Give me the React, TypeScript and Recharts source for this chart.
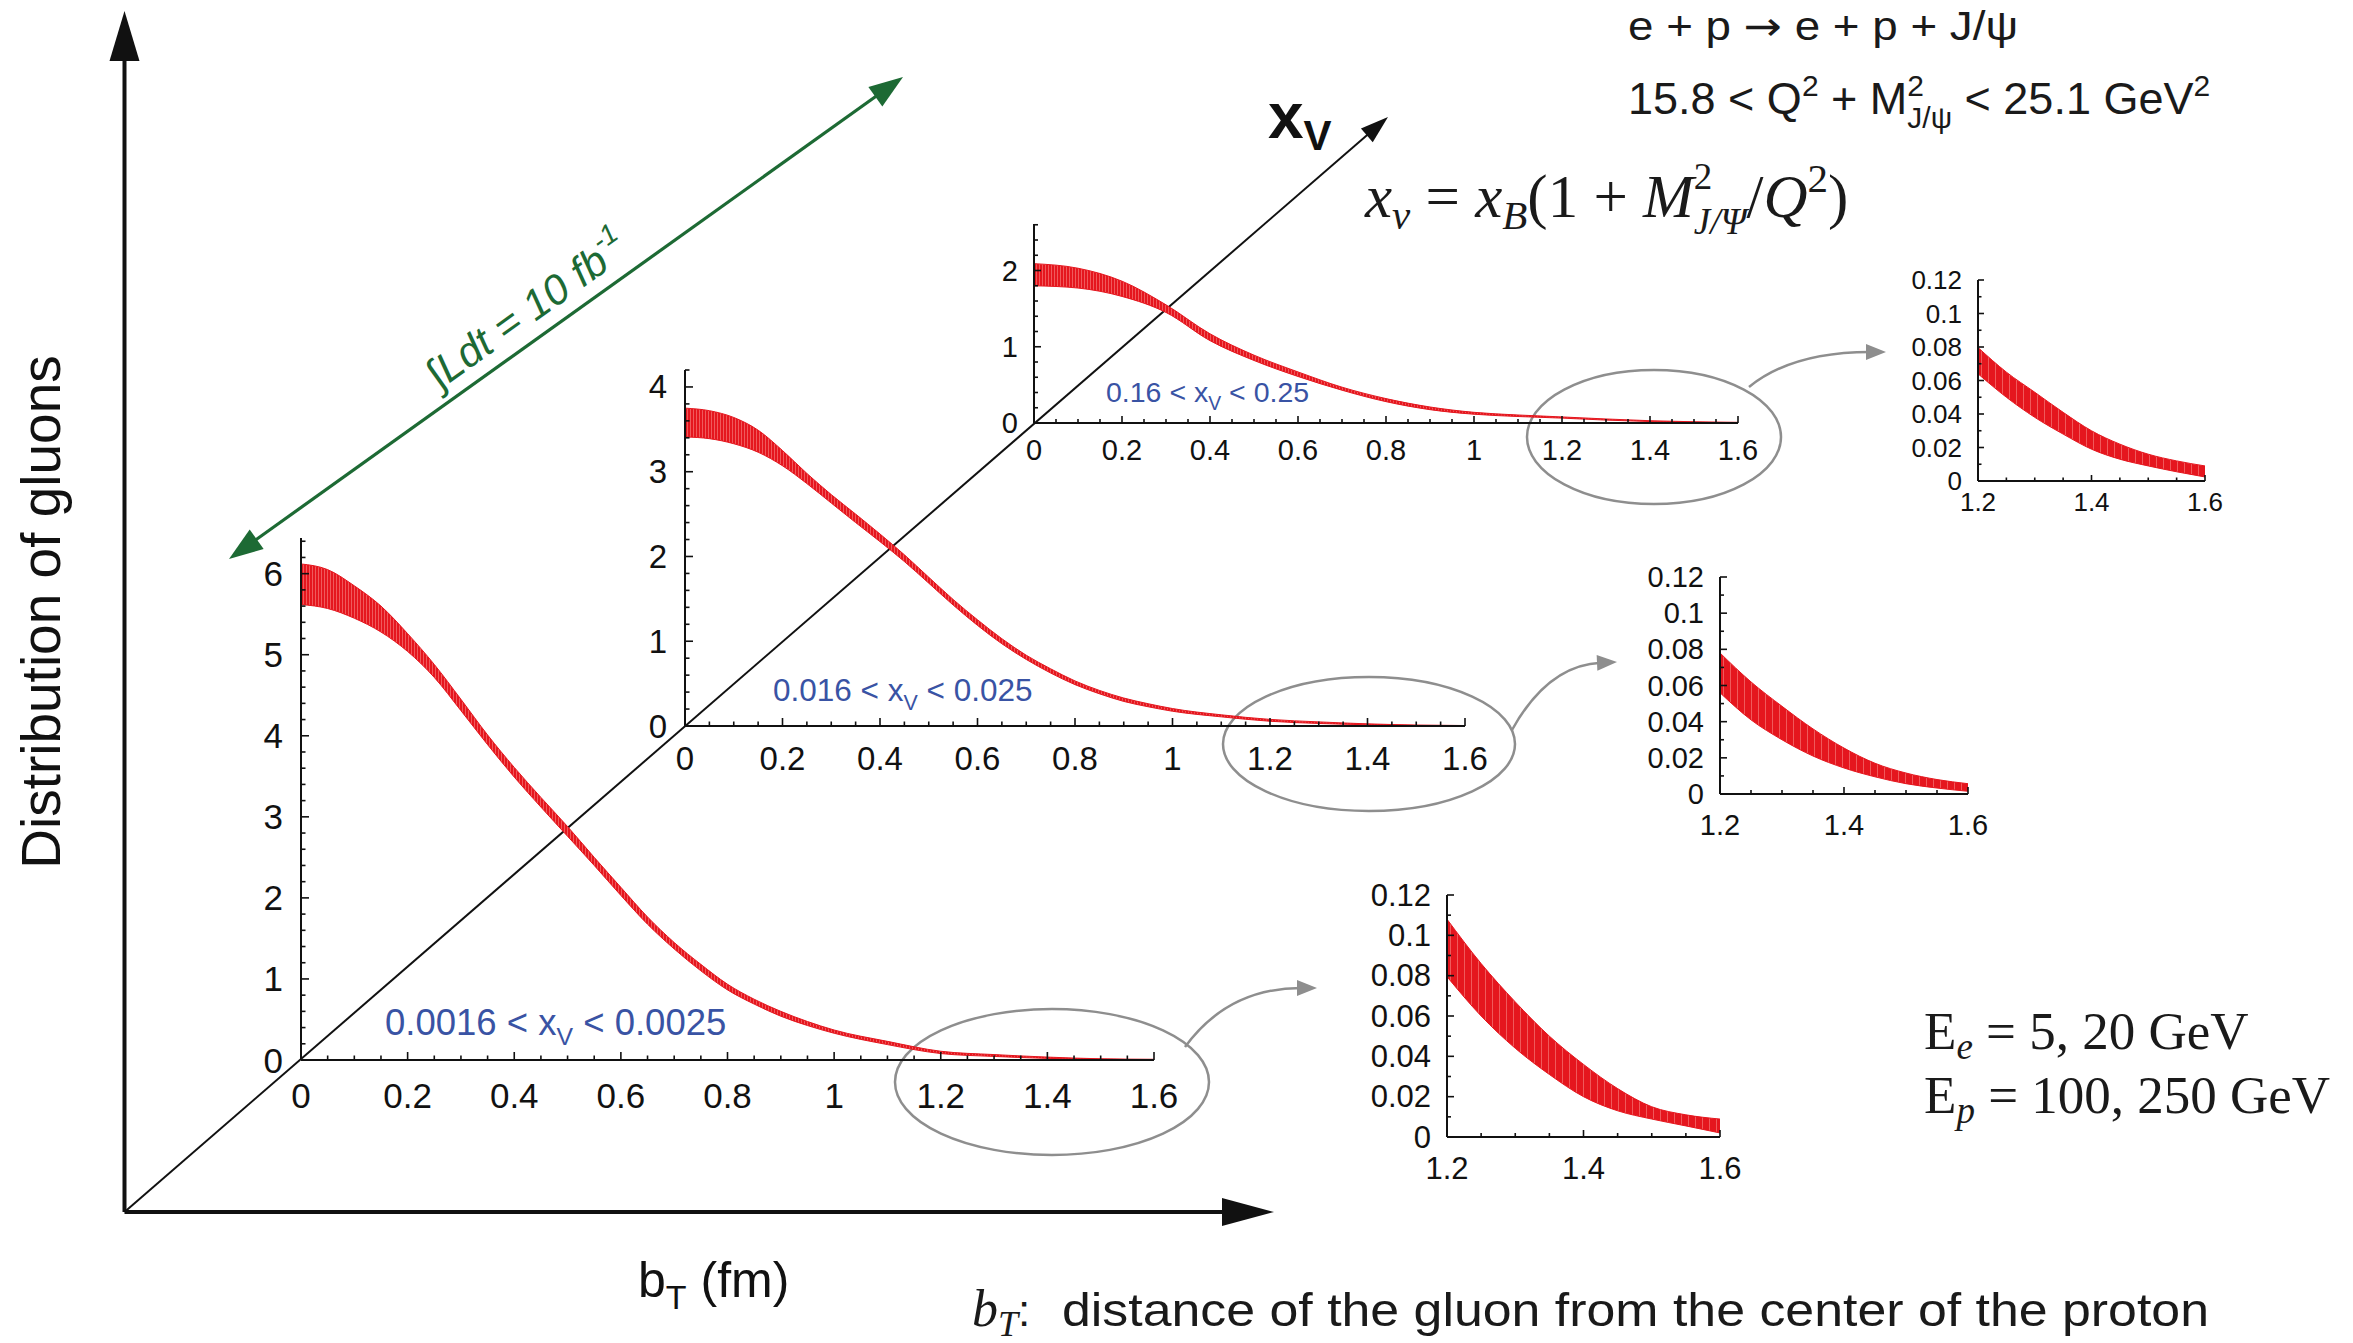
import React from 'react';
import { AreaChart, Area, XAxis, YAxis } from 'recharts';

const SANS = '"Liberation Sans", Arial, Helvetica, sans-serif';
const SERIF = '"Liberation Serif", "Times New Roman", Times, serif';
const INK = '#111111';
const RED = '#e5161e';
const BLUE = '#3953a4';
const GREEN = '#1d6a34';
const GREY = '#8e8e8e';

// b_T sampling points (fm)
const B_FINE = [0, 0.05, 0.1, 0.15, 0.2, 0.25, 0.3, 0.35, 0.4, 0.45, 0.5, 0.55, 0.6, 0.65, 0.7, 0.75, 0.8, 0.85, 0.9, 0.95, 1.0, 1.1, 1.2, 1.3, 1.4, 1.5, 1.6];
const B_COARSE = [0, 0.1, 0.2, 0.3, 0.4, 0.5, 0.6, 0.7, 0.8, 0.9, 1.0, 1.1, 1.2, 1.3, 1.4, 1.5, 1.6];
const B_TAIL = [1.2, 1.25, 1.3, 1.35, 1.4, 1.45, 1.5, 1.55, 1.6];

// 0.0016 < xV < 0.0025 (lower / upper edge of the band)
const LOW_A = [5.62, 5.57, 5.45, 5.28, 5.04, 4.72, 4.31, 3.89, 3.49, 3.12, 2.76, 2.4, 2.03, 1.675, 1.37, 1.1, 0.865, 0.69, 0.54, 0.425, 0.33, 0.19, 0.0795, 0.044, 0.02, 0.009, 0.002];
const HIGH_A = [6.12, 6.05, 5.85, 5.6, 5.26, 4.88, 4.45, 4.01, 3.61, 3.24, 2.88, 2.5, 2.13, 1.765, 1.45, 1.18, 0.935, 0.75, 0.6, 0.475, 0.37, 0.23, 0.108, 0.067, 0.036, 0.015, 0.009];

// 0.016 < xV < 0.025
const LOW_B = [3.41, 3.39, 3.33, 3.23, 3.07, 2.86, 2.63, 2.4, 2.175, 1.94, 1.685, 1.427, 1.187, 0.97, 0.785, 0.625, 0.488, 0.38, 0.29, 0.227, 0.174, 0.108, 0.056, 0.03, 0.0144, 0.0057, 0.0015];
const HIGH_B = [3.75, 3.72, 3.64, 3.49, 3.25, 2.98, 2.73, 2.5, 2.265, 2.02, 1.755, 1.493, 1.253, 1.03, 0.835, 0.675, 0.532, 0.42, 0.33, 0.263, 0.206, 0.132, 0.078, 0.0485, 0.0254, 0.0116, 0.0057];

// 0.16 < xV < 0.25
const LOW_C = [1.8, 1.77, 1.66, 1.45, 1.08, 0.82, 0.61, 0.43, 0.28, 0.175, 0.115, 0.085, 0.064, 0.038, 0.019, 0.009, 0.0024];
const HIGH_C = [2.09, 2.03, 1.86, 1.55, 1.17, 0.89, 0.67, 0.47, 0.32, 0.21, 0.14, 0.105, 0.0797, 0.053, 0.03, 0.016, 0.009];

// zoomed tails, 1.2 < b_T < 1.6
const TAIL_LOW_A = [0.0795, 0.06, 0.044, 0.031, 0.02, 0.013, 0.0089, 0.0055, 0.002];
const TAIL_HIGH_A = [0.108, 0.086, 0.067, 0.05, 0.036, 0.024, 0.015, 0.011, 0.0089];
const TAIL_LOW_B = [0.056, 0.041, 0.03, 0.021, 0.0144, 0.0095, 0.0057, 0.0033, 0.0015];
const TAIL_HIGH_B = [0.078, 0.062, 0.0485, 0.036, 0.0254, 0.017, 0.0116, 0.008, 0.0057];
const TAIL_LOW_C = [0.064, 0.05, 0.038, 0.028, 0.019, 0.013, 0.009, 0.0055, 0.0024];
const TAIL_HIGH_C = [0.0797, 0.065, 0.053, 0.041, 0.03, 0.022, 0.016, 0.012, 0.009];

// tick labels
const MAIN_X_LABELS = [0, 0.2, 0.4, 0.6, 0.8, 1, 1.2, 1.4, 1.6];
const TAIL_X_LABELS = [1.2, 1.4, 1.6];
const TAIL_Y_LABELS = [0, 0.02, 0.04, 0.06, 0.08, 0.1, 0.12];
const Y_LABELS_A = [0, 1, 2, 3, 4, 5, 6];
const Y_LABELS_B = [0, 1, 2, 3, 4];
const Y_LABELS_C = [0, 1, 2];

type PanelSpec = {
  id: string;
  b: number[];
  low: number[];
  high: number[];
  left: number;
  right: number;
  bottom: number;
  top: number;
  xMin: number;
  xMax: number;
  yMax: number;
  xMajor: number[];
  xParts: number;
  yMajor: number[];
  yParts: number;
  font: number;
  xLabelDy: number;
  yLabelGap: number;
  majorLen: number;
  minorLen: number;
  stripe: number;
};

// outer space around each plot; the 1px axes eat one pixel of the left/bottom margin
const PAD = { top: 30, right: 40, bottom: 70, left: 130 };
const CHART_MARGIN = { top: PAD.top, right: PAD.right, bottom: PAD.bottom - 1, left: PAD.left - 1 };

const PANELS: PanelSpec[] = [
  {
    id: 'a', b: B_FINE, low: LOW_A, high: HIGH_A,
    left: 301, right: 1154, bottom: 1060, top: 538,
    xMin: 0, xMax: 1.6, yMax: 6.44, xMajor: MAIN_X_LABELS, xParts: 4, yMajor: Y_LABELS_A, yParts: 5,
    font: 35, xLabelDy: 35, yLabelGap: 18, majorLen: 8, minorLen: 4.5, stripe: 3,
  },
  {
    id: 'b', b: B_FINE, low: LOW_B, high: HIGH_B,
    left: 685, right: 1465, bottom: 726, top: 370,
    xMin: 0, xMax: 1.6, yMax: 4.2, xMajor: MAIN_X_LABELS, xParts: 4, yMajor: Y_LABELS_B, yParts: 5,
    font: 33, xLabelDy: 32, yLabelGap: 18, majorLen: 8, minorLen: 4.5, stripe: 3,
  },
  {
    id: 'c', b: B_COARSE, low: LOW_C, high: HIGH_C,
    left: 1034, right: 1738, bottom: 423, top: 224,
    xMin: 0, xMax: 1.6, yMax: 2.61, xMajor: MAIN_X_LABELS, xParts: 4, yMajor: Y_LABELS_C, yParts: 5,
    font: 29, xLabelDy: 27, yLabelGap: 16, majorLen: 7, minorLen: 4, stripe: 3,
  },
  {
    id: 'ta', b: B_TAIL, low: TAIL_LOW_A, high: TAIL_HIGH_A,
    left: 1447, right: 1720, bottom: 1137, top: 895,
    xMin: 1.2, xMax: 1.6, yMax: 0.12, xMajor: TAIL_X_LABELS, xParts: 4, yMajor: TAIL_Y_LABELS, yParts: 2,
    font: 31, xLabelDy: 31, yLabelGap: 16, majorLen: 7, minorLen: 4, stripe: 7,
  },
  {
    id: 'tb', b: B_TAIL, low: TAIL_LOW_B, high: TAIL_HIGH_B,
    left: 1720, right: 1968, bottom: 794, top: 577,
    xMin: 1.2, xMax: 1.6, yMax: 0.12, xMajor: TAIL_X_LABELS, xParts: 4, yMajor: TAIL_Y_LABELS, yParts: 2,
    font: 29, xLabelDy: 31, yLabelGap: 16, majorLen: 7, minorLen: 4, stripe: 7,
  },
  {
    id: 'tc', b: B_TAIL, low: TAIL_LOW_C, high: TAIL_HIGH_C,
    left: 1978, right: 2205, bottom: 481, top: 280,
    xMin: 1.2, xMax: 1.6, yMax: 0.12, xMajor: TAIL_X_LABELS, xParts: 4, yMajor: TAIL_Y_LABELS, yParts: 2,
    font: 26, xLabelDy: 21, yLabelGap: 16, majorLen: 6, minorLen: 3.5, stripe: 7,
  },
];

// major ticks plus evenly spaced minor ticks up to the end of the axis
function fillTicks(major: number[], parts: number, max: number) {
  const step = (major[1] - major[0]) / parts;
  const out: number[] = [];
  for (let i = 0; major[0] + i * step <= max + 1e-6; i++) {
    out.push(Math.round((major[0] + i * step) * 1e6) / 1e6);
  }
  return out;
}

const isMajor = (v: number, major: number[]) => major.some((m) => Math.abs(m - v) < 1e-6);

function Panel({ s }: { s: PanelSpec }) {
  const data = s.b.map((b, i) => ({ b, band: [s.low[i], s.high[i]] }));
  const xTicks = fillTicks(s.xMajor, s.xParts, s.xMax);
  const yTicks = fillTicks(s.yMajor, s.yParts, s.yMax);
  const width = s.right - s.left + PAD.left + PAD.right;
  const height = s.bottom - s.top + PAD.top + PAD.bottom;

  const xTick = (p: any) => {
    const v = p.payload.value;
    const major = isMajor(v, s.xMajor);
    return (
      <g>
        <line x1={p.x} x2={p.x} y1={p.y} y2={p.y - (major ? s.majorLen : s.minorLen)} stroke={INK} strokeWidth={1.6} />
        {major && (
          <text x={p.x} y={p.y + s.xLabelDy} textAnchor="middle" dominantBaseline="central" fontSize={s.font} fontFamily={SANS} fill={INK}>
            {String(v)}
          </text>
        )}
      </g>
    );
  };

  const yTick = (p: any) => {
    const v = p.payload.value;
    const major = isMajor(v, s.yMajor);
    return (
      <g>
        <line x1={p.x} x2={p.x + (major ? s.majorLen : s.minorLen)} y1={p.y} y2={p.y} stroke={INK} strokeWidth={1.6} />
        {major && (
          <text x={p.x - s.yLabelGap} y={p.y} textAnchor="end" dominantBaseline="central" fontSize={s.font} fontFamily={SANS} fill={INK}>
            {String(v)}
          </text>
        )}
      </g>
    );
  };

  return (
    <div style={{ position: 'absolute', left: s.left - PAD.left, top: s.top - PAD.top }}>
      <AreaChart width={width} height={height} data={data} margin={CHART_MARGIN}>
        <defs>
          <pattern id={`stripe-${s.id}`} patternUnits="userSpaceOnUse" width={s.stripe} height={10}>
            <rect width={s.stripe} height={10} fill={RED} />
            <rect width={0.8} height={10} fill="#f36a6a" />
          </pattern>
        </defs>
        <XAxis
          dataKey="b"
          type="number"
          domain={[s.xMin, s.xMax]}
          ticks={xTicks}
          interval={0}
          height={1}
          tickSize={0}
          tickMargin={0}
          tickLine={false}
          axisLine={{ stroke: INK, strokeWidth: 2 }}
          tick={xTick}
          allowDataOverflow
        />
        <YAxis
          type="number"
          domain={[0, s.yMax]}
          ticks={yTicks}
          interval={0}
          width={1}
          tickSize={0}
          tickMargin={0}
          tickLine={false}
          axisLine={{ stroke: INK, strokeWidth: 2 }}
          tick={yTick}
          allowDataOverflow
        />
        <Area
          type="monotone"
          dataKey="band"
          stroke={RED}
          strokeWidth={1}
          fill={`url(#stripe-${s.id})`}
          fillOpacity={1}
          isAnimationActive={false}
        />
      </AreaChart>
    </div>
  );
}

type Pt = [number, number];

function head(tip: Pt, from: Pt, len: number, half: number) {
  const dx = tip[0] - from[0];
  const dy = tip[1] - from[1];
  const l = Math.hypot(dx, dy);
  const ux = dx / l;
  const uy = dy / l;
  const bx = tip[0] - ux * len;
  const by = tip[1] - uy * len;
  return `${tip[0]},${tip[1]} ${bx - uy * half},${by + ux * half} ${bx + uy * half},${by - ux * half}`;
}

function back(tip: Pt, from: Pt, len: number): Pt {
  const dx = tip[0] - from[0];
  const dy = tip[1] - from[1];
  const l = Math.hypot(dx, dy);
  return [tip[0] - (dx / l) * len, tip[1] - (dy / l) * len];
}

const ORIGIN: Pt = [124.5, 1212];
const Y_TIP: Pt = [124.5, 11];
const X_TIP: Pt = [1274, 1212];
const XV_TIP: Pt = [1388, 117];
const LUMI_A: Pt = [229, 559];
const LUMI_B: Pt = [903, 77];

const ELLIPSES = [
  { cx: 1052, cy: 1082, rx: 157, ry: 73 },
  { cx: 1369, cy: 744, rx: 146, ry: 67 },
  { cx: 1654, cy: 437, rx: 127, ry: 67 },
];

const CALLOUTS: { from: Pt; ctrl: Pt; to: Pt }[] = [
  { from: [1185, 1047], ctrl: [1228, 988], to: [1317, 988] },
  { from: [1512, 730], ctrl: [1548, 665], to: [1617, 662] },
  { from: [1749, 387], ctrl: [1792, 352], to: [1886, 352] },
];

const XV_LABELS = [
  { lo: '0.0016', hi: '0.0025', x: 385, y: 1035, size: 36.5 },
  { lo: '0.016', hi: '0.025', x: 773, y: 701, size: 31.5 },
  { lo: '0.16', hi: '0.25', x: 1106, y: 402, size: 28.5 },
];

function Decorations() {
  const yBase = back(Y_TIP, ORIGIN, 48);
  const xBase = back(X_TIP, ORIGIN, 50);
  const dBase = back(XV_TIP, ORIGIN, 26);
  const la = back(LUMI_A, LUMI_B, 28);
  const lb = back(LUMI_B, LUMI_A, 28);
  return (
    <svg width={2353} height={1343} style={{ position: 'absolute', left: 0, top: 0 }}>
      {/* frame axes */}
      <line x1={ORIGIN[0]} y1={ORIGIN[1]} x2={yBase[0]} y2={yBase[1]} stroke={INK} strokeWidth={4} />
      <polygon points={head(Y_TIP, ORIGIN, 50, 15)} fill={INK} />
      <line x1={ORIGIN[0]} y1={ORIGIN[1]} x2={xBase[0]} y2={xBase[1]} stroke={INK} strokeWidth={4} />
      <polygon points={head(X_TIP, ORIGIN, 52, 14)} fill={INK} />
      <line x1={ORIGIN[0]} y1={ORIGIN[1]} x2={dBase[0]} y2={dBase[1]} stroke={INK} strokeWidth={2} />
      <polygon points={head(XV_TIP, ORIGIN, 28, 9)} fill={INK} />

      {/* luminosity arrow */}
      <line x1={la[0]} y1={la[1]} x2={lb[0]} y2={lb[1]} stroke={GREEN} strokeWidth={3.2} />
      <polygon points={head(LUMI_A, LUMI_B, 34, 12)} fill={GREEN} />
      <polygon points={head(LUMI_B, LUMI_A, 34, 12)} fill={GREEN} />
      <text
        transform="translate(527 310) rotate(-35.5)"
        textAnchor="middle"
        dominantBaseline="central"
        fontFamily={SANS}
        fontStyle="italic"
        fontSize={42}
        fill={GREEN}
      >
        ∫Ldt = 10 fb<tspan dy={-15} fontSize={28}>-1</tspan>
      </text>

      {/* zoom ellipses and callout arrows */}
      {ELLIPSES.map((e, i) => (
        <ellipse key={i} cx={e.cx} cy={e.cy} rx={e.rx} ry={e.ry} fill="none" stroke={GREY} strokeWidth={2.5} />
      ))}
      {CALLOUTS.map((c, i) => {
        const end = back(c.to, c.ctrl, 16);
        return (
          <g key={i}>
            <path d={`M ${c.from[0]} ${c.from[1]} Q ${c.ctrl[0]} ${c.ctrl[1]} ${end[0]} ${end[1]}`} fill="none" stroke={GREY} strokeWidth={2.5} />
            <polygon points={head(c.to, c.ctrl, 20, 8)} fill={GREY} />
          </g>
        );
      })}

      {/* xV ranges */}
      {XV_LABELS.map((l) => (
        <text key={l.lo} x={l.x} y={l.y} fontFamily={SANS} fontSize={l.size} fill={BLUE}>
          {l.lo} &lt; x
          <tspan fontSize={l.size * 0.68} dy={l.size * 0.28}>V</tspan>
          <tspan dy={-l.size * 0.28}> &lt; {l.hi}</tspan>
        </text>
      ))}

      {/* axis titles */}
      <text transform="translate(60 612) rotate(-90)" textAnchor="middle" fontFamily={SANS} fontSize={55} fill={INK}>
        Distribution of gluons
      </text>
      <text x={638} y={1297} fontFamily={SANS} fontSize={50} fill={INK}>
        b<tspan fontSize={34} dy={12}>T</tspan>
        <tspan dy={-12}> (fm)</tspan>
      </text>
      <text x={1268} y={138} fontFamily={SANS} fontSize={64} fontWeight="bold" fill={INK}>
        x<tspan fontSize={42} dy={12}>V</tspan>
      </text>

      {/* process and kinematics */}
      <text x={1628} y={40} fontFamily={SANS} fontSize={40} fill="#1a1a1a" textLength={390} lengthAdjust="spacingAndGlyphs">
        e + p <tspan fontFamily='"DejaVu Sans", sans-serif'>→</tspan> e + p + J/ψ
      </text>
      <text x={1628} y={114} fontFamily={SANS} fontSize={45} fill="#1a1a1a">
        15.8 &lt; Q<tspan fontSize={30} dy={-18}>2</tspan>
        <tspan dy={18}> + M</tspan>
        <tspan fontSize={30} dy={-18}>2</tspan>
        <tspan fontSize={30} dx={-16.7} dy={32}>J/ψ</tspan>
        <tspan dy={-14}> &lt; 25.1 GeV</tspan>
        <tspan fontSize={30} dy={-18}>2</tspan>
      </text>
      <text x={1365} y={217} fontFamily={SERIF} fontSize={61} fill="#1a1a1a">
        <tspan fontStyle="italic">x</tspan>
        <tspan fontStyle="italic" fontSize={41} dy={12}>v</tspan>
        <tspan dy={-12}> = </tspan>
        <tspan fontStyle="italic">x</tspan>
        <tspan fontStyle="italic" fontSize={41} dy={12}>B</tspan>
        <tspan dy={-12}>(1 + </tspan>
        <tspan fontStyle="italic">M</tspan>
        <tspan fontSize={37} dy={-28}>2</tspan>
        <tspan fontStyle="italic" fontSize={37} dx={-18.5} dy={45}>J/Ψ</tspan>
        <tspan dy={-17}>/</tspan>
        <tspan fontStyle="italic">Q</tspan>
        <tspan fontSize={41} dy={-25}>2</tspan>
        <tspan dy={25}>)</tspan>
      </text>
      <text x={1924} y={1049} fontFamily={SERIF} fontSize={53} fill="#1a1a1a">
        E<tspan fontStyle="italic" fontSize={37} dy={10}>e</tspan>
        <tspan dy={-10}> = 5, 20 GeV</tspan>
      </text>
      <text x={1924} y={1113} fontFamily={SERIF} fontSize={53} fill="#1a1a1a">
        E<tspan fontStyle="italic" fontSize={37} dy={10}>p</tspan>
        <tspan dy={-10}> = 100, 250 GeV</tspan>
      </text>

      {/* footnote */}
      <text x={972} y={1326} fontFamily={SERIF} fontStyle="italic" fontSize={52} fill="#1a1a1a">
        b<tspan fontSize={36} dy={10}>T</tspan>
        <tspan dy={-10} fontStyle="normal" fontFamily={SANS} fontSize={44}>:</tspan>
      </text>
      <text x={1062} y={1326} fontFamily={SANS} fontSize={46} fill="#1a1a1a" textLength={1147} lengthAdjust="spacingAndGlyphs">
        distance of the gluon from the center of the proton
      </text>
    </svg>
  );
}

export default function App() {
  return (
    <div
      style={{
        position: 'absolute',
        left: 0,
        top: 0,
        width: 2353,
        height: 1343,
        background: '#ffffff',
        overflow: 'hidden',
      }}
    >
      <Decorations />
      {PANELS.map((s) => (
        <Panel key={s.id} s={s} />
      ))}
    </div>
  );
}
